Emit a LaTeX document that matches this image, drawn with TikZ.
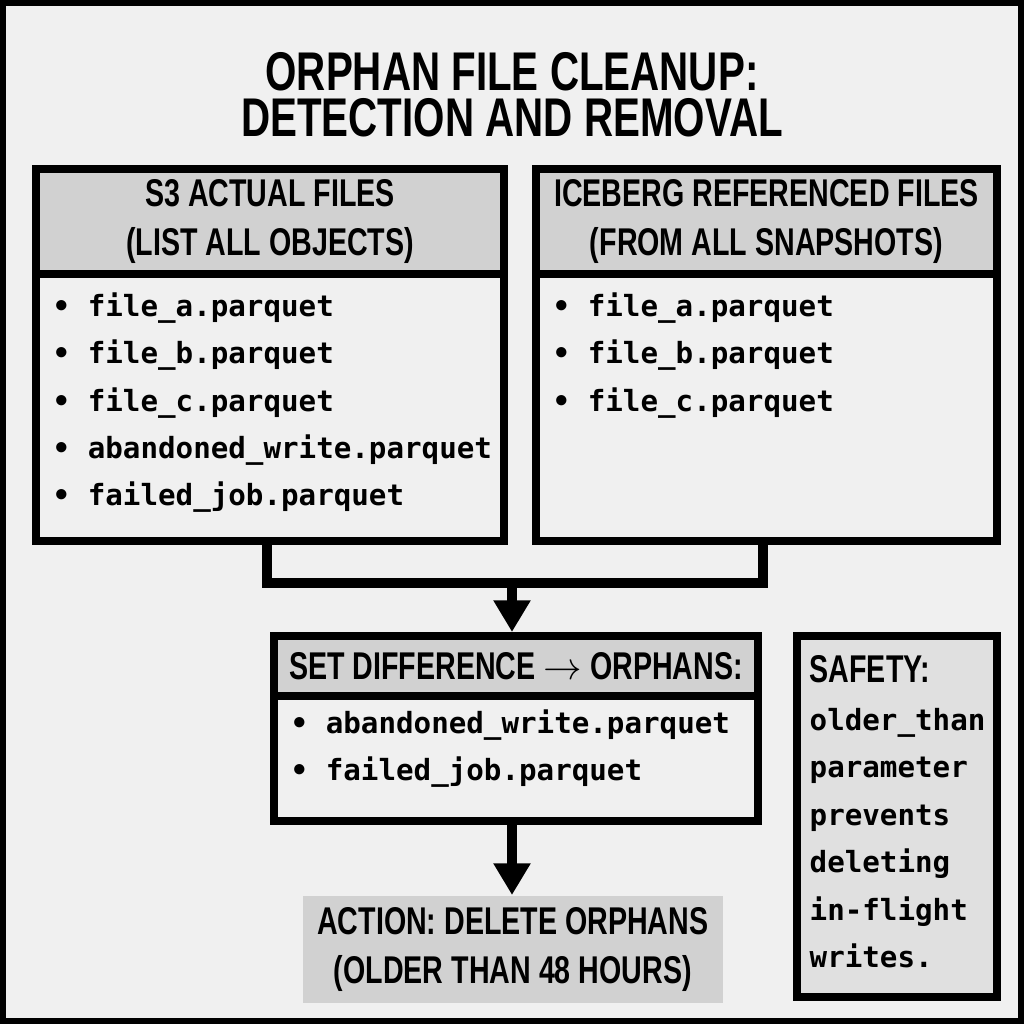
\documentclass[tikz,border=0pt]{standalone}
\usepackage{fontspec}
\setsansfont{Liberation Sans}[FakeStretch=0.74]
\setmonofont{DejaVu Sans Mono}
\usetikzlibrary{arrows.meta}

\begin{document}
\begin{tikzpicture}[
  x=0.01cm, y=-0.01cm,
  panel/.style={draw, line width=2.2pt, inner sep=0pt, anchor=north west},
  header/.style={panel, fill=black!18, align=center, font=\sffamily\bfseries\fontsize{11}{14}\selectfont},
  item/.style={anchor=west, inner sep=0pt, font=\ttfamily\bfseries\fontsize{8.3}{10}\selectfont},
  wire/.style={line width=2.8pt},
  >={Triangle[length=9pt, width=10pt]}
]
  \useasboundingbox (0,0) rectangle (1024,1024);
  \draw[fill=black!6, line width=2pt] (2,2) rectangle (1022,1022);

  % title
  \node[font=\sffamily\bfseries\fontsize{15.5}{13}\selectfont, align=center] (title) at (512,95)
    {ORPHAN FILE CLEANUP:\\DETECTION AND REMOVAL};

  % two source panels
  \node[panel, minimum width=4.68cm, minimum height=3.72cm] (lbox) at (32,165) {};
  \node[header, minimum width=4.68cm, minimum height=1.05cm] (lhead) at (32,165) {S3 ACTUAL FILES\\(LIST ALL OBJECTS)};
  \node[panel, minimum width=4.61cm, minimum height=3.72cm] (rbox) at (532,165) {};
  \node[header, minimum width=4.61cm, minimum height=1.05cm] (rhead) at (532,165) {ICEBERG REFERENCED FILES\\(FROM ALL SNAPSHOTS)};

  \node[item] (l1) at (52,308) {• file\_a.parquet};
  \node[item] (l2) at (52,355) {• file\_b.parquet};
  \node[item] (l3) at (52,403) {• file\_c.parquet};
  \node[item] (l4) at (52,450) {• abandoned\_write.parquet};
  \node[item] (l5) at (52,497) {• failed\_job.parquet};
  \node[item] (r1) at (552,308) {• file\_a.parquet};
  \node[item] (r2) at (552,355) {• file\_b.parquet};
  \node[item] (r3) at (552,403) {• file\_c.parquet};

  % difference panel
  \node[panel, minimum width=4.84cm, minimum height=1.85cm] (dbox) at (270,632) {};
  \node[header, minimum width=4.84cm, minimum height=0.6cm] (dhead) at (270,632) {SET DIFFERENCE $\rightarrow$ ORPHANS:};
  \node[item] (d1) at (290,725) {• abandoned\_write.parquet};
  \node[item] (d2) at (290,772) {• failed\_job.parquet};

  % action and safety
  \node[anchor=north west, fill=black!18, minimum width=4.2cm, minimum height=0.98cm, align=center,
    font=\sffamily\bfseries\fontsize{11}{14}\selectfont] (act) at (302,895)
    {ACTION: DELETE ORPHANS\\(OLDER THAN 48 HOURS)};
  \node[panel, fill=black!12, minimum width=2cm, minimum height=3.61cm] (safe) at (793,632) {};
  \node[anchor=north west, align=left, inner sep=0pt,
    font=\ttfamily\bfseries\fontsize{8.3}{13.5}\selectfont] (stxt) at (809,655)
    {{\sffamily\fontsize{11}{13.5}\selectfont SAFETY:}\\older\_than\\parameter\\prevents\\deleting\\in-flight\\writes.};

  % connectors
  \coordinate (join) at (512,583);
  \coordinate (lfoot) at (267,537);
  \coordinate (rfoot) at (763,537);
  \draw[wire] (lfoot) |- (join) -| (rfoot);
  \draw[wire, ->] (join) -- (join |- dbox.north);
  \draw[wire, ->] (join |- dbox.south) -- (join |- act.north);
\end{tikzpicture}
\end{document}
